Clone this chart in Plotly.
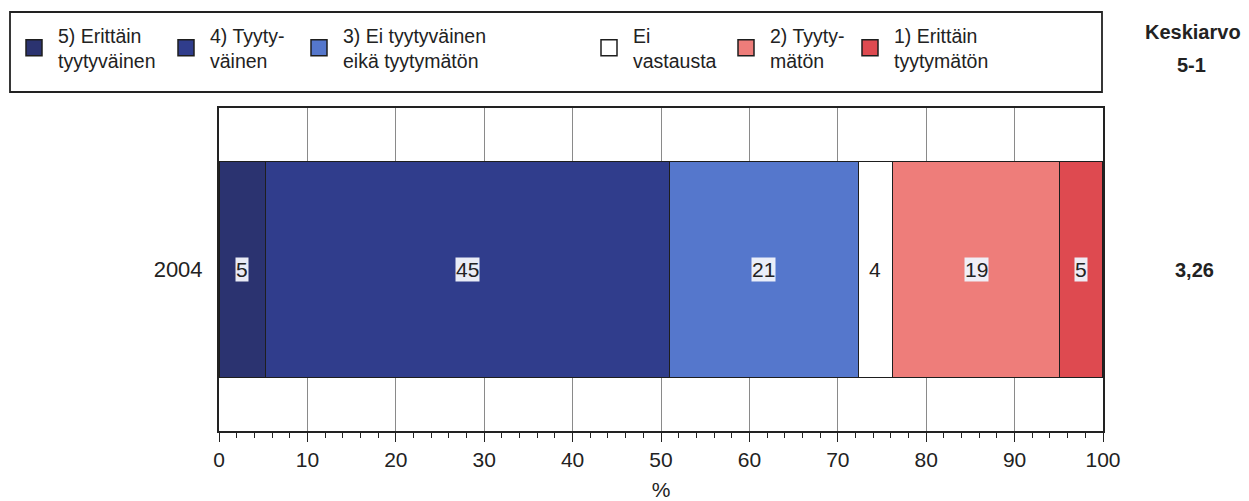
import plotly.graph_objects as go

years = ["2004"]
series_names = [
    "5) Erittäin<br>tyytyväinen",
    "4) Tyyty-<br>väinen",
    "3) Ei tyytyväinen<br>eikä tyytymätön",
    "Ei<br>vastausta",
    "2) Tyyty-<br>mätön",
    "1) Erittäin<br>tyytymätön",
]
values = [5.3, 45.7, 21.3, 3.9, 18.9, 4.9]
value_labels = ["5", "45", "21", "4", "19", "5"]
colors = ["#2b3370", "#303d8c", "#5577cc", "#ffffff", "#ee7d7a", "#de4a50"]
label_boxes = [True, True, True, False, True, True]
legend_widths = [99, 80, 237, 84, 71, 180]
mean_label = "3,26"
x_ticks = [0, 10, 20, 30, 40, 50, 60, 70, 80, 90, 100]

FONT = "Liberation Sans, Arial, sans-serif"
INK = "#222222"

# plot-area geometry (figure pixels) used to place the outer legend frame
W, H = 1241, 493
ML, MR, MT, MB = 211, 146, 100, 70
PW, PH = W - ML - MR, H - MT - MB


def px_to_paper_x(px):
    return (px - ML) / PW


def px_to_paper_y(py):
    return (H - MB - py) / PH


fig = go.Figure()
for name, v, c, lw in zip(series_names, values, colors, legend_widths):
    fig.add_trace(go.Bar(
        y=[0], x=[v], name=name, orientation="h",
        marker=dict(color=c, line=dict(color="#1e1e1e", width=1.2)),
        width=0.67, hoverinfo="skip", showlegend=False,
    ))
    # legend entry (larger square symbol than the bar default)
    fig.add_trace(go.Scatter(
        x=[None], y=[None], mode="markers", name=name,
        marker=dict(symbol="square", size=16, color=c, line=dict(color="#1e1e1e", width=1.5)),
        legendwidth=lw, hoverinfo="skip",
    ))

# value labels centred in each segment
cum = 0
for v, lab, box in zip(values, value_labels, label_boxes):
    fig.add_annotation(
        x=cum + v / 2, y=0, xref="x", yref="y", text=lab, showarrow=False,
        font=dict(family=FONT, size=21, color=INK),
        bgcolor="rgba(240,242,250,0.97)" if box else "rgba(0,0,0,0)",
        borderpad=0,
    )
    cum += v

fig.add_annotation(x=1.0, xref="paper", xshift=91, y=0, yref="y", text="<b>" + mean_label + "</b>",
                   xanchor="center", yanchor="middle",
                   showarrow=False, font=dict(family=FONT, size=20, color=INK))
fig.add_annotation(x=1.0, xref="paper", xshift=90, y=1.0, yref="paper", yshift=76, text="<b>Keskiarvo</b>",
                   xanchor="center", yanchor="middle",
                   showarrow=False, font=dict(family=FONT, size=20, color=INK))
fig.add_annotation(x=1.0, xref="paper", xshift=88, y=1.0, yref="paper", yshift=43, text="<b>5-1</b>",
                   xanchor="center", yanchor="middle",
                   showarrow=False, font=dict(family=FONT, size=20, color=INK))

# legend frame
fig.add_shape(type="rect", xref="paper", yref="paper",
              x0=px_to_paper_x(2), x1=px_to_paper_x(1094),
              y0=px_to_paper_y(84), y1=px_to_paper_y(4),
              line=dict(color=INK, width=1.8), fillcolor="rgba(0,0,0,0)", layer="above")

fig.update_layout(
    width=W, height=H,
    margin=dict(l=ML, r=MR, t=MT, b=MB, autoexpand=False),
    barmode="stack",
    plot_bgcolor="white", paper_bgcolor="white",
    font=dict(family=FONT, size=21, color=INK),
    showlegend=True,
    legend=dict(
        orientation="h", x=px_to_paper_x(2), xanchor="left", y=px_to_paper_y(8), yanchor="top",
        borderwidth=0, bgcolor="rgba(0,0,0,0)",
        font=dict(family=FONT, size=19.5, color=INK),
        traceorder="normal", itemclick=False, itemdoubleclick=False,
        valign="middle", itemsizing="trace", itemwidth=38,
    ),
    xaxis=dict(
        range=[0, 100], tickvals=x_ticks, ticks="outside", ticklen=9, tickcolor=INK,
        showgrid=True, gridcolor="#8a8a8a", gridwidth=1,
        showline=True, linecolor=INK, linewidth=2, mirror=True,
        minor=dict(dtick=2, ticks="outside", ticklen=5, tickcolor=INK, showgrid=False),
        title=dict(text="%", font=dict(family=FONT, size=21), standoff=15),
        tickfont=dict(family=FONT, size=21), zeroline=False, fixedrange=True,
    ),
    yaxis=dict(
        range=[-0.5, 0.5], showline=True, linecolor=INK, linewidth=2, mirror=True,
        tickvals=[0], ticktext=years, ticks="outside", ticklen=10, tickcolor="rgba(0,0,0,0)",
        tickfont=dict(family=FONT, size=22), showgrid=False, zeroline=False, fixedrange=True,
    ),
)

fig.write_html("out.html")
